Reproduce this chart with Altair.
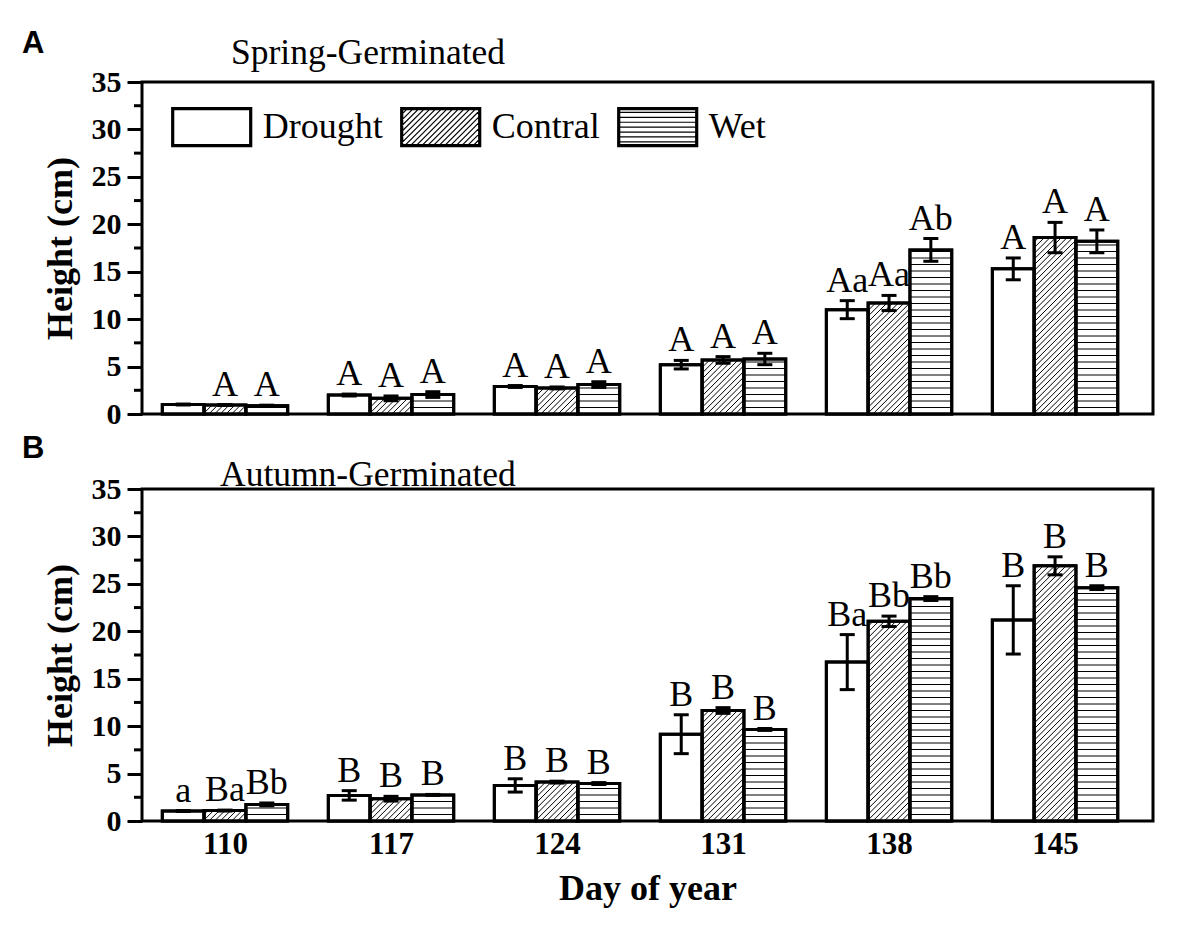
import altair as alt
import pandas as pd
import numpy as np

# ---------------- data ----------------
days = [110, 117, 124, 131, 138, 145]
treatments = ["Drought", "Contral", "Wet"]

spring_drought = [1.0, 2.0, 2.9, 5.2, 11.0, 15.3]
spring_drought_err = [0.05, 0.1, 0.1, 0.45, 0.95, 1.15]
spring_contral = [0.95, 1.65, 2.75, 5.7, 11.7, 18.6]
spring_contral_err = [0.05, 0.25, 0.1, 0.35, 0.8, 1.6]
spring_wet = [0.88, 2.05, 3.1, 5.8, 17.3, 18.2]
spring_wet_err = [0.05, 0.3, 0.3, 0.6, 1.2, 1.2]
spring_drought_lab = ["", "A", "A", "A", "Aa", "A"]
spring_contral_lab = ["A", "A", "A", "A", "Aa", "A"]
spring_wet_lab = ["A", "A", "A", "A", "Ab", "A"]

autumn_drought = [1.05, 2.7, 3.75, 9.15, 16.75, 21.2]
autumn_drought_err = [0.05, 0.5, 0.7, 2.05, 2.9, 3.6]
autumn_contral = [1.1, 2.35, 4.1, 11.65, 21.05, 26.9]
autumn_contral_err = [0.05, 0.25, 0.1, 0.3, 0.55, 0.95]
autumn_wet = [1.75, 2.75, 3.95, 9.65, 23.45, 24.6]
autumn_wet_err = [0.15, 0.05, 0.1, 0.1, 0.2, 0.2]
autumn_drought_lab = ["a", "B", "B", "B", "Ba", "B"]
autumn_contral_lab = ["Ba", "B", "B", "B", "Bb", "B"]
autumn_wet_lab = ["Bb", "B", "B", "B", "Bb", "B"]

y_major = [0, 5, 10, 15, 20, 25, 30, 35]
y_minor = [2.5, 7.5, 12.5, 17.5, 22.5, 27.5, 32.5]
panel_letters = ["A", "B"]
panel_titles = ["Spring-Germinated", "Autumn-Germinated"]

# ---------------- geometry / style ----------------
W, H = 1011, 332
XMIN, XMAX = 106.5, 149.13
YMAX = 35
XPX = W / (XMAX - XMIN)
YPX = H / YMAX
BARW_PX = 41.8
bw = BARW_PX / XPX
CAP_PX = 15
SERIF = "Liberation Serif"
SANS = "Liberation Sans"


def make_df(vals, errs, labs):
    rows = []
    for ti, t in enumerate(treatments):
        for di, d in enumerate(days):
            xc = d + (ti - 1) * bw
            v = vals[ti][di]
            e = errs[ti][di]
            rows.append(dict(day=d, treatment=t, value=v, err=e, label=labs[ti][di],
                             x0=xc - bw / 2, x1=xc + bw / 2, xc=xc,
                             lo=v - e, hi=v + e,
                             c0=xc - CAP_PX / 2 / XPX, c1=xc + CAP_PX / 2 / XPX))
    return pd.DataFrame(rows)


def diag_hatch(df):
    rows = []
    s = 5.7
    for _, r in df[df.treatment == "Contral"].iterrows():
        Wp = BARW_PX
        Hp = r.value * YPX
        c = -Wp + s * 0.5
        while c < Hp:
            us = max(0.0, -c)
            ue = min(Wp, Hp - c)
            if ue > us:
                rows.append(dict(hx=r.x0 + us / XPX, hy=(us + c) / YPX,
                                 hx2=r.x0 + ue / XPX, hy2=(ue + c) / YPX))
            c += s
    return pd.DataFrame(rows)


def horiz_hatch(df):
    rows = []
    sh = 6.5 / YPX
    for _, r in df[df.treatment == "Wet"].iterrows():
        k = 1
        while k * sh < r.value - 0.15:
            rows.append(dict(hx=r.x0, hx2=r.x1, hy=k * sh))
            k += 1
    return pd.DataFrame(rows)


xscale = alt.Scale(domain=[XMIN, XMAX], nice=False, zero=False)
yscale = alt.Scale(domain=[0, YMAX], nice=False)

yaxis = alt.Axis(values=y_major, tickSize=15, tickWidth=3, tickColor="black",
                 labelFont=SERIF, labelFontWeight="bold", labelFontSize=30,
                 labelColor="black", labelPadding=6, domain=False, grid=False,
                 title="Height (cm)", titleFont=SERIF, titleFontWeight="bold",
                 titleFontSize=36, titleColor="black", titlePadding=12)


def legend_paths():
    hh = 0.4875
    outline = ""
    for d in [0.0, 0.025, 0.05]:
        outline += f"M{-1+d},{-hh+d}L{1-d},{-hh+d}L{1-d},{hh-d}L{-1+d},{hh-d}Z"
    Wp, Hp = 80.0, 39.0
    diag = ""
    s = 5.7
    c = -Wp + s * 0.5
    while c < Hp:
        us = max(0.0, -c)
        ue = min(Wp, Hp - c)
        if ue > us:
            x1, y1 = us - 40, 19.5 - (us + c)
            x2, y2 = ue - 40, 19.5 - (ue + c)
            diag += f"M{x1/40:.4f},{y1/40:.4f}L{x2/40:.4f},{y2/40:.4f}"
        c += s
    horiz = ""
    for k in range(1, 8):
        yy = -19.5 + k * 4.9
        horiz += f"M-1,{yy/40:.4f}L1,{yy/40:.4f}"
    return [outline, outline + diag, outline + horiz]


def panel(vals, errs, labs, letter, title, xaxis, legend):
    df = make_df(vals, errs, labs)
    base = alt.Chart(df)

    def X(f):
        return alt.X(f, scale=xscale, axis=xaxis, title="Day of year")

    def Y(f):
        return alt.Y(f, scale=yscale, axis=yaxis, title="Height (cm)")

    bars = base.mark_bar(fill="white", stroke="black", strokeWidth=3).encode(
        x=X("x0:Q"), x2="x1:Q", y=Y("value:Q"), y2=alt.datum(0))
    dh = alt.Chart(diag_hatch(df)).mark_rule(color="black", strokeWidth=1).encode(
        x=X("hx:Q"), x2="hx2:Q", y=Y("hy:Q"), y2="hy2:Q")
    hh = alt.Chart(horiz_hatch(df)).mark_rule(color="black", strokeWidth=1).encode(
        x=X("hx:Q"), x2="hx2:Q", y=Y("hy:Q"))
    outline = base.mark_bar(fillOpacity=0, stroke="black", strokeWidth=3).encode(
        x=X("x0:Q"), x2="x1:Q", y=Y("value:Q"), y2=alt.datum(0))
    err = base.mark_rule(color="black", strokeWidth=3).encode(
        x=X("xc:Q"), y=Y("lo:Q"), y2="hi:Q")
    cap_hi = base.mark_rule(color="black", strokeWidth=3).encode(
        x=X("c0:Q"), x2="c1:Q", y=Y("hi:Q"))
    cap_lo = base.mark_rule(color="black", strokeWidth=3).encode(
        x=X("c0:Q"), x2="c1:Q", y=Y("lo:Q"))
    txt = base.mark_text(font=SERIF, fontSize=36, color="black", baseline="alphabetic",
                         align="center", dy=-9).encode(
        x=X("xc:Q"), y=Y("hi:Q"), text="label:N")
    minor = alt.Chart(pd.DataFrame({"t": y_minor})).mark_rule(color="black", strokeWidth=3).encode(
        y=Y("t:Q"), x=alt.value(-8), x2=alt.value(0))
    tdf = pd.DataFrame({"letter": [letter], "title": [title]})
    let = alt.Chart(tdf).mark_text(font=SANS, fontWeight="bold", fontSize=31, color="black",
                                   align="left", baseline="alphabetic").encode(
        text="letter:N", x=alt.value(-120), y=alt.value(-29 if letter == "A" else -31))
    tit = alt.Chart(tdf).mark_text(font=SERIF, fontSize=35.5, color="black",
                                   align="left", baseline="alphabetic").encode(
        text="title:N", x=alt.value(89 if letter == "A" else 78),
        y=alt.value(-18 if letter == "A" else -3))
    layers = [bars, dh, hh, outline, err, cap_hi, cap_lo, txt, minor, let, tit]
    if legend:
        leg = alt.Chart(pd.DataFrame({"treatment": treatments})).transform_filter("false").mark_point(
            color="black", opacity=1, strokeWidth=1.2, filled=False).encode(
            shape=alt.Shape("treatment:N",
                            scale=alt.Scale(domain=treatments, range=legend_paths()),
                            legend=alt.Legend(title=None, orient="none", legendX=28.7, legendY=4,
                                              direction="horizontal", symbolSize=6400,
                                              symbolStrokeWidth=1.2, symbolStrokeColor="black",
                                              symbolFillColor="transparent", symbolOpacity=1,
                                              labelFont=SERIF, labelFontSize=36, labelColor="black",
                                              labelOffset=10, columnPadding=15, padding=0,
                                              labelLimit=400)))
        layers.append(leg)
    return alt.layer(*layers).properties(width=W, height=H)


xaxisA = alt.Axis(values=days, labels=False, ticks=False, domain=False, grid=False,
                  title=None)
xaxisB = alt.Axis(values=days, format="d", labelFont=SERIF, labelFontWeight="bold",
                  labelFontSize=31, labelColor="black", ticks=False, tickSize=0, domain=False,
                  grid=False, labelPadding=8, title="Day of year", titleFont=SERIF,
                  titleFontWeight="bold", titleFontSize=36, titleColor="black", titlePadding=12)

pA = panel([spring_drought, spring_contral, spring_wet],
           [spring_drought_err, spring_contral_err, spring_wet_err],
           [spring_drought_lab, spring_contral_lab, spring_wet_lab],
           "A", "Spring-Germinated", xaxisA, True)
pB = panel([autumn_drought, autumn_contral, autumn_wet],
           [autumn_drought_err, autumn_contral_err, autumn_wet_err],
           [autumn_drought_lab, autumn_contral_lab, autumn_wet_lab],
           "B", "Autumn-Germinated", xaxisB, False)

chart = alt.vconcat(pA, pB, spacing=0).properties(
    padding={"left": 12, "top": 18, "right": 10, "bottom": 10},
    background="white",
).configure_view(stroke="black", strokeWidth=3)

chart.save("out.html", embed_options={"renderer": "svg", "actions": False})
